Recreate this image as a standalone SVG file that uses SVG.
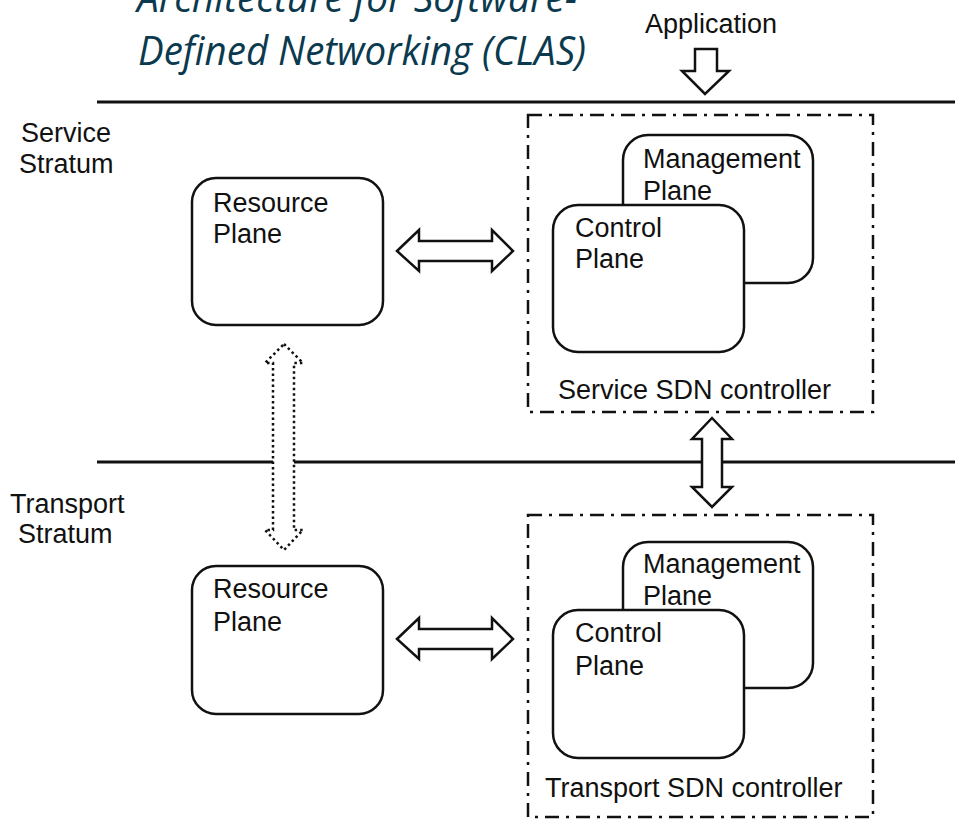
<svg xmlns="http://www.w3.org/2000/svg" width="955" height="820" viewBox="0 0 955 820">
  <style>
    .lbl { font-family: "Liberation Sans", Arial, sans-serif; font-size: 27px; fill: #111; }
    .title { font-family: "Open Sans", "Noto Sans", sans-serif; font-style: italic; font-size: 41px; fill: #0b3a4e; }
    .box { fill: #fff; stroke: #111; stroke-width: 2.5; }
    .ctrl { fill: none; stroke: #111; stroke-width: 2.5; stroke-dasharray: 14 7 3 7; }
    .rule { stroke: #111; stroke-width: 3; }
    .arrow { fill: #fff; stroke: #111; stroke-width: 2.5; stroke-linejoin: miter; }
    .dotted { fill: #fff; stroke: #111; stroke-width: 2.5; stroke-dasharray: 2.5 3; }
  </style>
  <rect width="955" height="820" fill="#fff"/>

  <!-- title, first line runs off the top edge -->
  <g id="title">
    <text class="title" x="137" y="12" textLength="440" lengthAdjust="spacingAndGlyphs">Architecture for Software-</text>
    <text class="title" x="138" y="65" textLength="448" lengthAdjust="spacingAndGlyphs">Defined Networking (CLAS)</text>
  </g>

  <!-- stratum boundaries -->
  <g id="boundaries">
    <line class="rule" x1="97" y1="102" x2="955" y2="102"/>
    <line class="rule" x1="97" y1="462" x2="955" y2="462"/>
  </g>

  <g id="stratum-labels">
    <text class="lbl" x="21" y="142">Service</text>
    <text class="lbl" x="19" y="173">Stratum</text>
    <text class="lbl" x="10" y="513">Transport</text>
    <text class="lbl" x="18" y="543">Stratum</text>
  </g>

  <text id="application" class="lbl" x="645" y="33">Application</text>

  <!-- service stratum -->
  <g id="service-resource-plane">
    <rect class="box" x="192" y="178" width="191" height="147" rx="24"/>
    <text class="lbl" x="213" y="212">Resource</text>
    <text class="lbl" x="213" y="243">Plane</text>
  </g>

  <g id="service-sdn-controller">
    <rect class="ctrl" x="528" y="115" width="345" height="297"/>
    <text class="lbl" x="558" y="399">Service SDN controller</text>
  </g>
  <g id="service-management-plane">
    <rect class="box" x="623" y="135" width="190" height="148" rx="25"/>
    <text class="lbl" x="643" y="168">Management</text>
    <text class="lbl" x="643" y="200">Plane</text>
  </g>
  <g id="service-control-plane">
    <rect class="box" x="553" y="205" width="191" height="147" rx="25"/>
    <text class="lbl" x="575" y="237">Control</text>
    <text class="lbl" x="575" y="268">Plane</text>
  </g>

  <!-- transport stratum -->
  <g id="transport-resource-plane">
    <rect class="box" x="192" y="566" width="191" height="148" rx="24"/>
    <text class="lbl" x="213" y="598">Resource</text>
    <text class="lbl" x="213" y="631">Plane</text>
  </g>

  <g id="transport-sdn-controller">
    <rect class="ctrl" x="528" y="515" width="345" height="302"/>
    <text class="lbl" x="545" y="797">Transport SDN controller</text>
  </g>
  <g id="transport-management-plane">
    <rect class="box" x="623" y="542" width="190" height="146" rx="25"/>
    <text class="lbl" x="643" y="573">Management</text>
    <text class="lbl" x="643" y="605">Plane</text>
  </g>
  <g id="transport-control-plane">
    <rect class="box" x="553" y="610" width="191" height="148" rx="25"/>
    <text class="lbl" x="575" y="642">Control</text>
    <text class="lbl" x="575" y="675">Plane</text>
  </g>

  <!-- block arrows -->
  <g id="connectors">
    <!-- application into service controller -->
    <path class="arrow" d="M695,49 H717 V71 H729 L705,94 L682,71 H695 Z"/>
    <!-- service resource plane <-> service controller -->
    <path class="arrow" d="M397,251 L419,230 V241 H492 V230 L513,251 L492,271 V261 H419 V271 Z"/>
    <!-- transport resource plane <-> transport controller -->
    <path class="arrow" d="M397,639 L419,618 V629 H492 V618 L513,639 L492,659 V649 H419 V659 Z"/>
    <!-- service controller <-> transport controller -->
    <path class="arrow" d="M712,418 L732,439 H722 V487 H732 L712,507 L692,487 H702 V439 H692 Z"/>
    <!-- resource plane <-> resource plane (dotted) -->
    <path class="dotted" d="M284,344 L303,363 H294 V530 H303 L284,550 L265,530 H273 V363 H265 Z"/>
  </g>
</svg>
